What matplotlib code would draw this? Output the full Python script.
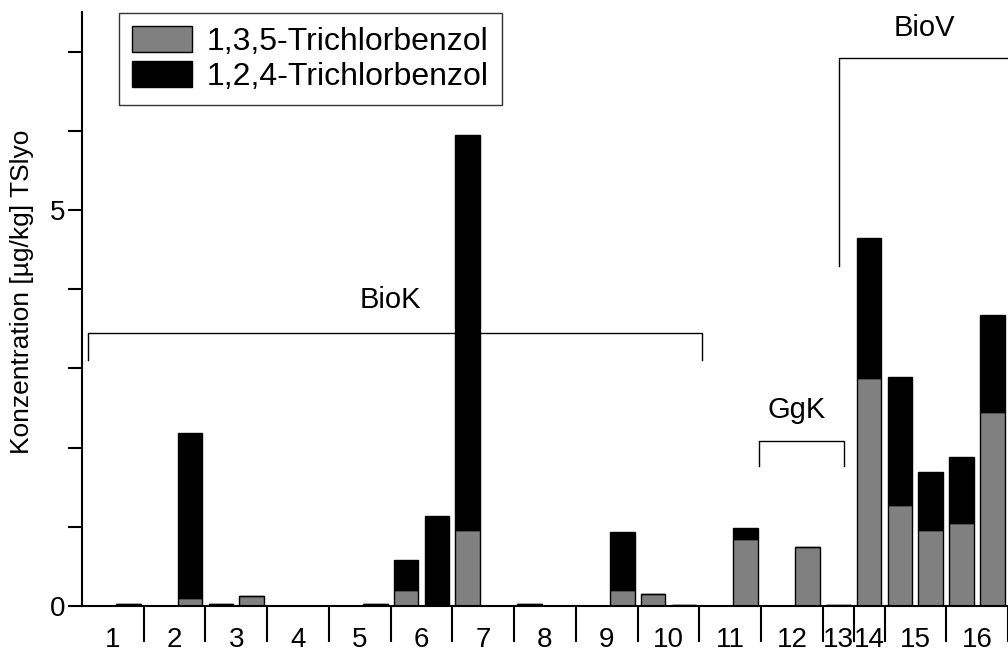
import numpy as np
import matplotlib
matplotlib.use("Agg")
import matplotlib.pyplot as plt

plt.rcParams['font.family'] = ['Liberation Sans', 'DejaVu Sans']

# one slot per sample position along the x axis (two slots per site, site 13/14 have one)
gray_vals = [0.02, 0, 0.10, 0.02, 0.13, 0, 0, 0, 0.02, 0.20,
             0, 0.96, 0, 0.02, 0, 0, 0.20, 0.15, 0.01, 0,
             0.85, 0, 0.745, 0.01, 2.88, 1.28, 0.96, 1.05, 2.45]
black_vals = [0, 0, 2.08, 0, 0, 0, 0, 0, 0, 0.38,
              1.14, 4.99, 0, 0, 0, 0, 0.73, 0, 0, 0,
              0.13, 0, 0, 0, 1.77, 1.61, 0.73, 0.83, 1.22]

site_labels = [str(i) for i in range(1, 17)]
site_centers = [-0.5, 1.5, 3.5, 5.5, 7.5, 9.5, 11.5, 13.5, 15.5, 17.5,
                19.5, 21.5, 23, 24, 25.5, 27.5]
site_bounds = [0.5, 2.5, 4.5, 6.5, 8.5, 10.5, 12.5, 14.5, 16.5, 18.5,
               20.5, 22.5, 23.5, 24.5, 26.5, 28.5]

series_names = ["1,3,5-Trichlorbenzol", "1,2,4-Trichlorbenzol"]

x = np.arange(len(gray_vals))

fig = plt.figure(figsize=(10.08, 6.59), dpi=100)
ax = fig.add_axes([82 / 1008, 53 / 659, 926 / 1008, 594 / 659])

ax.bar(x, gray_vals, width=0.8, color="#808080", edgecolor="black", linewidth=1.0,
       label=series_names[0])
ax.bar(x, black_vals, width=0.8, bottom=gray_vals, color="black", edgecolor="black",
       linewidth=1.0, label=series_names[1])

ax.set_xlim(-1.5, 28.35)
ax.set_ylim(0, 7.5)

for s in ["top", "right"]:
    ax.spines[s].set_visible(False)
for s in ["left", "bottom"]:
    ax.spines[s].set_linewidth(1.5)

ax.set_yticks([0, 5])
ax.set_yticks(np.arange(0, 8), minor=True)
ax.tick_params(axis="y", which="both", direction="out", length=10, width=1.5, labelsize=20, pad=2)

ax.set_xticks(site_centers)
ax.set_xticklabels(site_labels)
ax.set_xticks(site_bounds, minor=True)
ax.tick_params(axis="x", which="major", length=0, labelsize=20, pad=15)
ax.tick_params(axis="x", which="minor", direction="out", length=26, width=1.5)

fig.text(22 / 1008, 1 - 292 / 659, "Konzentration [µg/kg] TSlyo", rotation=90,
         ha="center", va="center", fontsize=19)

# brackets for the sample groups
lw = 1.0
ax.plot([-1.29, -1.29, 18.58, 18.58], [3.11, 3.45, 3.45, 3.11], color="black", lw=lw, clip_on=False)
ax.text(8.5, 3.86, "BioK", ha="center", va="center", fontsize=21)
ax.plot([20.42, 20.42, 23.19, 23.19], [1.77, 2.08, 2.08, 1.77], color="black", lw=lw, clip_on=False)
ax.text(21.64, 2.47, "GgK", ha="center", va="center", fontsize=21)
ax.plot([23.03, 23.03, 29.0], [4.29, 6.92, 6.92], color="black", lw=lw, clip_on=False)
ax.text(25.8, 7.3, "BioV", ha="center", va="center", fontsize=21)

leg = ax.legend(loc="upper left", bbox_to_anchor=(119 / 1008, 1 - 13 / 659),
                bbox_transform=fig.transFigure, fontsize=23, frameon=True, fancybox=False,
                edgecolor="black", handlelength=1.9, handleheight=0.9, borderpad=0.4,
                labelspacing=0.12, handletextpad=0.45, borderaxespad=0)
leg.get_frame().set_linewidth(1.0)

fig.savefig("out.png", dpi=100)
